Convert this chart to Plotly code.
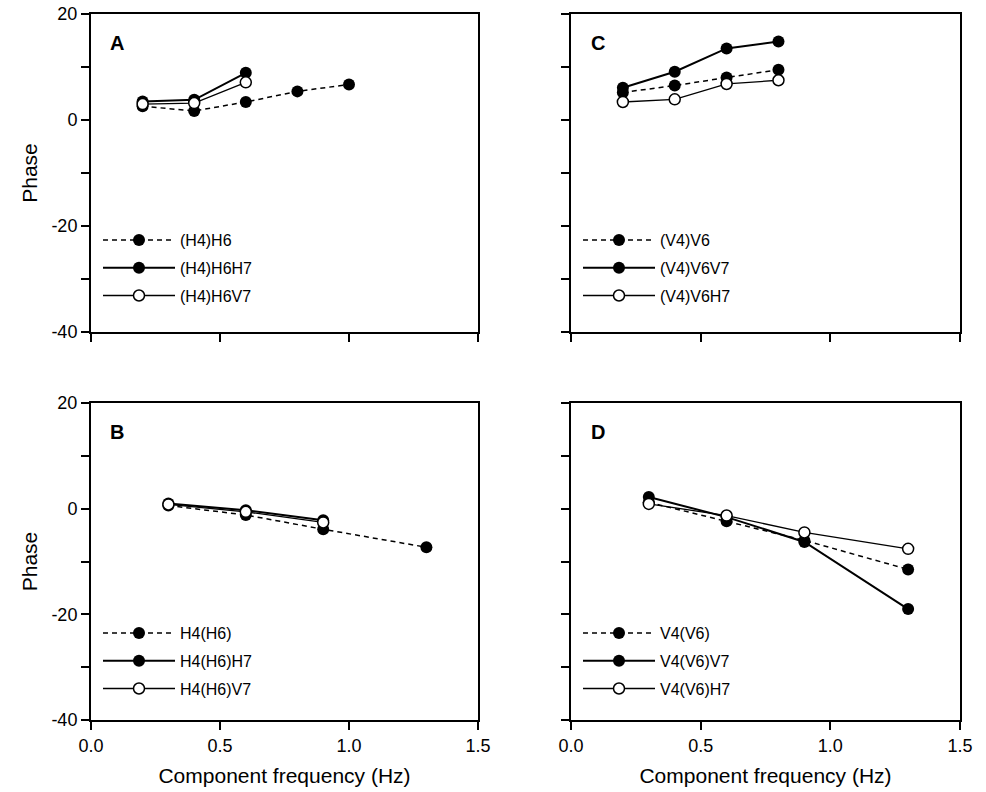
import plotly.graph_objects as go

# ---------------- data ----------------
freq_A_long = [0.2, 0.4, 0.6, 0.8, 1.0]
freq_A_short = [0.2, 0.4, 0.6]
A_H6 = [2.6, 1.7, 3.4, 5.4, 6.7]
A_H6H7 = [3.5, 3.8, 8.9]
A_H6V7 = [3.0, 3.2, 7.1]

freq_C = [0.2, 0.4, 0.6, 0.8]
C_V6 = [5.2, 6.5, 8.0, 9.5]
C_V6V7 = [6.1, 9.1, 13.5, 14.8]
C_V6H7 = [3.4, 3.9, 6.8, 7.5]

freq_B_long = [0.3, 0.6, 0.9, 1.3]
freq_B_short = [0.3, 0.6, 0.9]
B_H6 = [0.6, -1.2, -3.9, -7.3]
B_H6H7 = [1.0, -0.3, -2.2]
B_H6V7 = [0.8, -0.6, -2.6]

freq_D = [0.3, 0.6, 0.9, 1.3]
D_V6 = [1.2, -2.4, -6.0, -11.5]
D_V6V7 = [2.2, -1.6, -6.3, -19.0]
D_V6H7 = [0.9, -1.3, -4.5, -7.6]

x_ticks = [0.0, 0.5, 1.0, 1.5]
x_ticklabels = ["0.0", "0.5", "1.0", "1.5"]
y_ticks = [20, 10, 0, -10, -20, -30, -40]
y_ticklabels = ["20", "", "0", "", "-20", "", "-40"]

panels = [
    # letter, xaxis, yaxis, legend, series
    ("A", "x", "y", "legend", [
        ("(H4)H6", freq_A_long, A_H6, "dash"),
        ("(H4)H6H7", freq_A_short, A_H6H7, "filled"),
        ("(H4)H6V7", freq_A_short, A_H6V7, "open"),
    ]),
    ("C", "x2", "y2", "legend2", [
        ("(V4)V6", freq_C, C_V6, "dash"),
        ("(V4)V6V7", freq_C, C_V6V7, "filled"),
        ("(V4)V6H7", freq_C, C_V6H7, "open"),
    ]),
    ("B", "x3", "y3", "legend3", [
        ("H4(H6)", freq_B_long, B_H6, "dash"),
        ("H4(H6)H7", freq_B_short, B_H6H7, "filled"),
        ("H4(H6)V7", freq_B_short, B_H6V7, "open"),
    ]),
    ("D", "x4", "y4", "legend4", [
        ("V4(V6)", freq_D, D_V6, "dash"),
        ("V4(V6)V7", freq_D, D_V6V7, "filled"),
        ("V4(V6)H7", freq_D, D_V6H7, "open"),
    ]),
]

FONT = "Liberation Sans, Arial, Helvetica, sans-serif"

fig = go.Figure()
for letter, xa, ya, lg, series in panels:
    for i, (name, xs, ys, style) in enumerate(series):
        if style == "dash":
            line = dict(color="black", width=1.5, dash="5px,4px")
            marker = dict(size=12, color="black", symbol="circle")
        elif style == "filled":
            line = dict(color="black", width=2)
            marker = dict(size=12, color="black", symbol="circle")
        else:
            line = dict(color="black", width=1.3)
            marker = dict(size=11, color="white", symbol="circle",
                          line=dict(color="black", width=1.5))
        fig.add_trace(go.Scatter(
            x=xs, y=ys, name=name, mode="lines+markers",
            line=line, marker=marker, xaxis=xa, yaxis=ya,
            legend=lg, legendgroup=f"{letter}{i}",
        ))

# body margin is removed in the page (post_script), figure fills the window
W, H = 986, 792

def px_x(p):
    return p / W

def px_y(p):
    return (H - p) / H

xdom_left = [px_x(91), px_x(478)]
xdom_right = [px_x(571), px_x(960)]
ydom_top = [px_y(332), px_y(14)]
ydom_bot = [px_y(720), px_y(403)]

def xaxis(dom, anchor, labels):
    return dict(
        domain=dom, anchor=anchor, range=[0, 1.5], automargin=False,
        tickvals=x_ticks, ticktext=x_ticklabels if labels else ["", "", "", ""],
        ticks="outside", ticklen=8, tickwidth=1.5, tickcolor="black",
        showline=True, linecolor="black", linewidth=2, mirror=True,
        showgrid=False, zeroline=False, ticklabeloverflow="allow",
        tickfont=dict(family=FONT, size=18, color="black"),
        title=dict(text="Component frequency (Hz)" if labels else "",
                   font=dict(family=FONT, size=21, color="black"), standoff=14),
    )

def yaxis(dom, anchor, labels):
    return dict(
        domain=dom, anchor=anchor, range=[-40, 20], automargin=False,
        tickvals=y_ticks, ticktext=y_ticklabels if labels else [""] * 7,
        ticks="outside", ticklen=8, tickwidth=1.5, tickcolor="black",
        showline=True, linecolor="black", linewidth=2, mirror=True,
        showgrid=False, zeroline=False, ticklabeloverflow="allow",
        tickfont=dict(family=FONT, size=18, color="black"),
        title=dict(text="Phase" if labels else "",
                   font=dict(family=FONT, size=21, color="black"), standoff=8),
    )

def legend(x, ytop):
    return dict(
        x=x, y=ytop, xanchor="left", yanchor="top",
        bgcolor="rgba(0,0,0,0)", borderwidth=0,
        font=dict(family=FONT, size=16, color="black"),
        tracegroupgap=4, itemwidth=72,
    )

fig.update_layout(
    width=W, height=H,
    margin=dict(l=0, r=0, t=0, b=0, autoexpand=False),
    paper_bgcolor="white", plot_bgcolor="white",
    showlegend=True,
    xaxis=xaxis(xdom_left, "y", False),
    yaxis=yaxis(ydom_top, "x", True),
    xaxis2=xaxis(xdom_right, "y2", False),
    yaxis2=yaxis(ydom_top, "x2", False),
    xaxis3=xaxis(xdom_left, "y3", True),
    yaxis3=yaxis(ydom_bot, "x3", True),
    xaxis4=xaxis(xdom_right, "y4", True),
    yaxis4=yaxis(ydom_bot, "x4", False),
    legend=legend(px_x(98), px_y(223)),
    legend2=legend(px_x(578), px_y(223)),
    legend3=legend(px_x(98), px_y(616)),
    legend4=legend(px_x(578), px_y(616)),
)

for letter, xa, ya, lg, series in panels:
    fig.add_annotation(
        text=f"<b>{letter}</b>", showarrow=False,
        xref=f"{xa} domain", yref=f"{ya} domain",
        x=0.045, y=0.91, xanchor="left", yanchor="middle",
        font=dict(family=FONT, size=20, color="black"),
    )

fig.write_html(
    "out.html",
    config={"displayModeBar": False},
    post_script="document.body.style.margin='0px';document.body.style.overflow='hidden';",
)
